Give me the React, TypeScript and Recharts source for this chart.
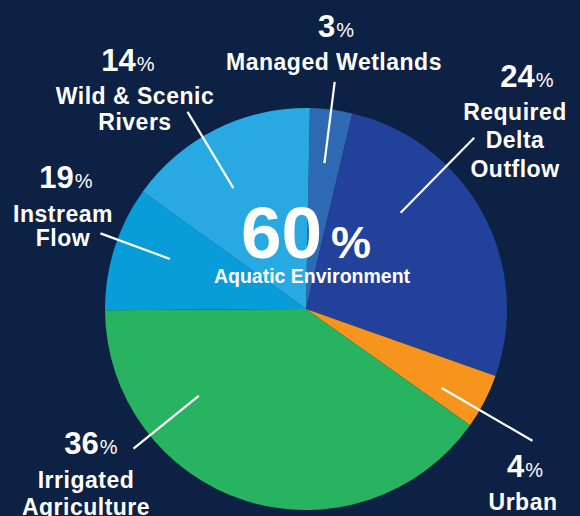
import React from "react";
import { PieChart, Pie, Cell } from "recharts";

// ---- data ----
const categories = [
  "Managed Wetlands",
  "Required Delta Outflow",
  "Urban",
  "Irrigated Agriculture",
  "Instream Flow",
  "Wild & Scenic Rivers",
];
// percentages printed on the labels
const labelPercents = [3, 24, 4, 36, 19, 14];
// shares of the circle as drawn in the picture (measured from the slice angles)
const sliceShares = [3.4, 26.7, 4.4, 40.1, 10.0, 15.4];
const nameLines = [
  ["Managed Wetlands"],
  ["Required", "Delta", "Outflow"],
  ["Urban"],
  ["Irrigated", "Agriculture"],
  ["Instream", "Flow"],
  ["Wild & Scenic", "Rivers"],
];
const centerValue = "60";
const centerCaption = "Aquatic Environment";

// ---- styles / layout ----
const colors = ["#2e69b3", "#22419a", "#f7941d", "#27b35f", "#089dd8", "#29a9e1"];
const BG = "#0d2144";
const FONT = "'Liberation Sans', Arial, Helvetica, sans-serif";

// leader lines in polar form relative to the pie centre: angle (deg), inner r, outer r
const leaders = [
  { a: 82.8, r1: 147, r2: 229 },
  { a: 45.5, r1: 135, r2: 240 },
  { a: -30.2, r1: 157, r2: 262 },
  { a: -141, r1: 138, r2: 222 },
  { a: 159.8, r1: 145, r2: 219 },
  { a: 121, r1: 141, r2: 230 },
];
// label text anchors, offsets from the pie centre: percent line, then name lines
const labelLayout = [
  { pct: [30, -272], names: [[28, -239]] },
  { pct: [221, -222], names: [[209, -189], [209, -161], [209, -132]] },
  { pct: [219, 168], names: [[217, 201]] },
  { pct: [-215, 145], names: [[-220, 179], [-220, 206]] },
  { pct: [-240, -121], names: [[-243, -87], [-243, -63]] },
  { pct: [-178, -238], names: [[-171, -205], [-171, -179]] },
];

const data = categories.map((name, i) => ({
  name,
  share: sliceShares[i],
  pct: labelPercents[i],
}));

const RAD = Math.PI / 180;

const renderLabel = (props: any) => {
  const { cx, cy, index } = props;
  const L = leaders[index];
  const lay = labelLayout[index];
  const x1 = cx + L.r1 * Math.cos(L.a * RAD);
  const y1 = cy - L.r1 * Math.sin(L.a * RAD);
  const x2 = cx + L.r2 * Math.cos(L.a * RAD);
  const y2 = cy - L.r2 * Math.sin(L.a * RAD);
  return (
    <g key={`lbl-${index}`}>
      <line x1={x1} y1={y1} x2={x2} y2={y2} stroke="#ffffff" strokeWidth={2.2} />
      <text
        x={cx + lay.pct[0]}
        y={cy + lay.pct[1]}
        textAnchor="middle"
        fill="#ffffff"
        fontFamily={FONT}
        fontWeight="bold"
      >
        <tspan fontSize={31}>{labelPercents[index]}</tspan>
        <tspan fontSize={20} fontWeight="normal" dx={1}>%</tspan>
      </text>
      {nameLines[index].map((ln, j) => (
        <text
          key={j}
          x={cx + lay.names[j][0]}
          y={cy + lay.names[j][1]}
          textAnchor="middle"
          fill="#ffffff"
          fontFamily={FONT}
          fontWeight="bold"
          fontSize={23}
          letterSpacing={0.5}
        >
          {ln}
        </text>
      ))}
      {index === 0 && (
        <g>
          <text
            x={cx}
            y={cy - 51}
            textAnchor="middle"
            fill="#ffffff"
            fontFamily={FONT}
            fontWeight="bold"
          >
            <tspan fontSize={73}>{centerValue}</tspan>
            <tspan fontSize={45} dx={9}>%</tspan>
          </text>
          <text
            x={cx + 6}
            y={cy - 26}
            textAnchor="middle"
            fill="#ffffff"
            fontFamily={FONT}
            fontWeight="bold"
            fontSize={19.5}
          >
            {centerCaption}
          </text>
        </g>
      )}
    </g>
  );
};

export default function App() {
  return (
    <div
      style={{
        position: "absolute",
        left: 0,
        top: 0,
        width: 580,
        height: 516,
        background: BG,
        overflow: "hidden",
      }}
    >
      <PieChart width={580} height={516} margin={{ top: 0, right: 0, bottom: 0, left: 0 }}>
        <Pie
          data={data}
          dataKey="share"
          nameKey="name"
          cx={306}
          cy={309}
          outerRadius={201}
          startAngle={88.9}
          endAngle={88.9 - 360}
          stroke="none"
          labelLine={false}
          label={renderLabel}
          isAnimationActive={false}
        >
          {data.map((d, i) => (
            <Cell key={d.name} fill={colors[i]} />
          ))}
        </Pie>
      </PieChart>
    </div>
  );
}
